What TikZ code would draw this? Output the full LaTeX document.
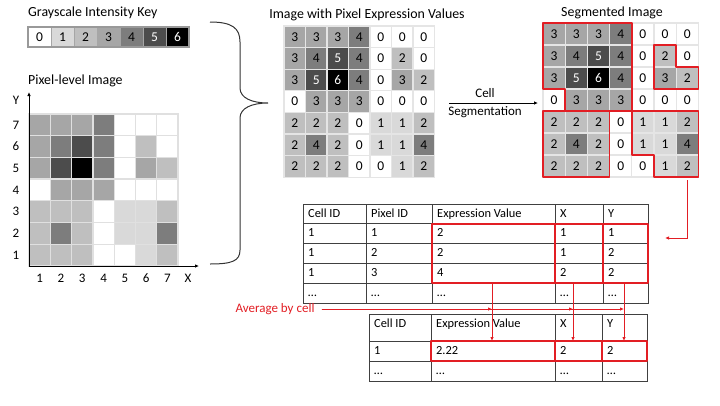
\documentclass[tikz,border=0pt]{standalone}
\usepackage{fontspec}
\setmainfont{Carlito}
\usetikzlibrary{calc,arrows.meta}
\definecolor{g0}{gray}{1}
\definecolor{g1}{gray}{0.85}
\definecolor{g2}{gray}{0.75}
\definecolor{g3}{gray}{0.65}
\definecolor{g4}{gray}{0.49}
\definecolor{g5}{gray}{0.30}
\definecolor{g6}{gray}{0}
\definecolor{t0}{gray}{0}
\definecolor{t1}{gray}{0}
\definecolor{t2}{gray}{0}
\definecolor{t3}{gray}{0}
\definecolor{t4}{gray}{0}
\definecolor{t5}{gray}{1}
\definecolor{t6}{gray}{1}
\definecolor{redc}{RGB}{226,30,36}
\tikzset{
 keycell/.style={draw=black!35, line width=1pt, minimum width=23pt, minimum height=20pt, inner sep=0, outer sep=0, font=\fontsize{13.5}{14}\selectfont},
 pix/.style={draw=black!12, line width=1.3pt, minimum width=21.3pt, minimum height=21.7pt, inner sep=0, outer sep=0},
 mcell/.style={draw=black!10, line width=1.3pt, minimum width=21.5pt, minimum height=21.6pt, inner sep=0, outer sep=0, font=\fontsize{13.5}{14}\selectfont},
 scell/.style={mcell, minimum width=22.2pt, minimum height=22pt},
 ttl/.style={font=\fontsize{13.9}{15}\selectfont, inner sep=0},
 lbl/.style={font=\fontsize{13}{14}\selectfont, inner sep=0},
 tbox/.style={draw=black!75, line width=0.9pt, anchor=north west, inner sep=0, outer sep=0},
 ttext/.style={anchor=west, inner sep=0, text height=8.5pt, text depth=2.5pt, font=\fontsize{12.4}{14}\selectfont},
 redline/.style={draw=redc, line width=1.6pt, line join=round},
 redarr/.style={draw=redc, line width=0.9pt, -{Latex[length=4pt,width=3.5pt]}},
 blkarr/.style={draw=black, line width=0.9pt, -{Latex[length=4pt,width=3.5pt]}},
 bracepath/.style={draw=black!80, line width=1pt},
}
\begin{document}
\begin{tikzpicture}[x=1pt,y=-1pt]
\useasboundingbox (0,0) rectangle (720,405);

% ---- Grayscale key
\node[ttl, anchor=west] (keyttl) at (28,13) {Grayscale Intensity Key};
\foreach \v in {0,...,6} {
  \node[keycell, fill=g\v, text=t\v] (key\v) at ({28+23*\v+11.5},37) {\v};
}
\draw[black!40, line width=1.2pt] (key0.north west) rectangle (key6.south east);

% ---- Pixel-level image
\node[ttl, anchor=west] (pixttl) at (28,81) {Pixel-level Image};
\foreach \rowv [count=\r] in {{3,3,3,4,0,0,0},{3,4,5,4,0,2,0},{3,5,6,4,0,3,2},{0,3,3,3,0,0,0},{2,2,2,0,1,1,2},{2,4,2,0,1,1,4},{2,2,2,0,0,1,2}} {
  \foreach \v [count=\c] in \rowv {
    \node[pix, fill=g\v] (p\r-\c) at ({29+21.3*(\c-0.5)},{114+21.7*(\r-0.5)}) {};
  }
}
\coordinate (origin) at (29,266);
\coordinate (ytip) at (29,92);
\coordinate (xtip) at (199,266);
\draw[blkarr] (origin) -- (ytip);
\draw[blkarr] (origin) -- (xtip);
\node[lbl] (ylab) at (16,100) {Y};
\node[lbl] (xlab) at (188,278) {X};
\foreach \i in {1,...,7} {
  \node[lbl] (yn\i) at (16,{114+21.7*(7-\i+0.5)}) {\i};
  \node[lbl] (xn\i) at ({29+21.3*(\i-0.5)},278) {\i};
}

% ---- Brace
\coordinate (bt) at (268,103);
\draw[bracepath] (210,22) .. controls (232,22) and (240,28) .. (240,42) -- (240,88)
  .. controls (240,98) and (252,103) .. (bt)
  .. controls (252,103) and (240,108) .. (240,118) -- (240,250)
  .. controls (240,261) and (232,264) .. (210,264);

% ---- Image with pixel expression values
\node[ttl] (midttl) at (367,15) {Image with Pixel Expression Values};
\foreach \rowv [count=\r] in {{3,3,3,4,0,0,0},{3,4,5,4,0,2,0},{3,5,6,4,0,3,2},{0,3,3,3,0,0,0},{2,2,2,0,1,1,2},{2,4,2,0,1,1,4},{2,2,2,0,0,1,2}} {
  \foreach \v [count=\c] in \rowv {
    \node[mcell, fill=g\v, text=t\v] (m\r-\c) at ({284+21.5*(\c-0.5)},{26+21.6*(\r-0.5)}) {\v};
  }
}

% ---- Cell segmentation arrow
\coordinate (csa) at (449,103);
\coordinate (csb) at (538,103);
\draw[blkarr] (csa) -- (csb);
\node[lbl] (celllab) at (485,93) {Cell};
\node[lbl] (seglab) at (485,112) {Segmentation};

% ---- Segmented image
\node[ttl] (segttl) at (612,13) {Segmented Image};
\foreach \rowv [count=\r] in {{3,3,3,4,0,0,0},{3,4,5,4,0,2,0},{3,5,6,4,0,3,2},{0,3,3,3,0,0,0},{2,2,2,0,1,1,2},{2,4,2,0,1,1,4},{2,2,2,0,0,1,2}} {
  \foreach \v [count=\c] in \rowv {
    \node[scell, fill=g\v, text=t\v] (s\r-\c) at ({543+22.2*(\c-0.5)},{23+22*(\r-0.5)}) {\v};
  }
}
\draw[redline] (s1-1.north west) -- (s1-4.north east) -- (s4-4.south east) -- (s4-2.south west)
  -- (s4-2.north west) -- (s3-1.south west) -- cycle;
\draw[redline] (s2-6.north west) -- (s2-6.north east) -- (s2-6.south east) -- (s3-7.north east)
  -- (s3-7.south east) -- (s3-6.south west) -- cycle;
\draw[redline] (s5-1.north west) rectangle (s7-3.south east);
\draw[redline] (s5-5.north west) -- (s5-7.north east) -- (s7-7.south east) -- (s7-6.south west)
  -- (s6-6.south west) -- (s6-5.south west) -- cycle;

% ---- Table 1
\foreach \rowv [count=\r] in {{Cell ID,Pixel ID,Expression Value,X,Y},{1,1,2,1,1},{1,2,2,1,2},{1,3,4,2,2},{…,…,…,…,…}} {
  \foreach \txt [count=\c] in \rowv {
    \pgfmathsetmacro\xx{{303,366,432,555,603}[\c-1]}
    \pgfmathsetmacro\ww{{63,66,123,48,45}[\c-1]}
    \pgfmathsetmacro\yy{204+19.8*(\r-1)}
    \node[tbox, minimum width=\ww, minimum height=19.8] (t1-\r-\c) at (\xx,\yy) {};
    \node[ttext] (t1t-\r-\c) at ($(t1-\r-\c.north west)+(5,10)$) {\txt};
  }
}
\draw[redline] (t1-2-3.north west) rectangle (t1-4-3.south east);
\draw[redline] (t1-2-4.north west) rectangle (t1-4-4.south east);
\draw[redline] (t1-2-5.north west) rectangle (t1-4-5.south east);

% ---- Table 2
\foreach \rowv [count=\r] in {{Cell ID,Expression Value,X,Y},{1,2.22,2,2},{…,…,…,…}} {
  \foreach \txt [count=\c] in \rowv {
    \pgfmathsetmacro\xx{{369,431,555,602}[\c-1]}
    \pgfmathsetmacro\ww{{62,124,47,45}[\c-1]}
    \pgfmathsetmacro\yy{{314,341,361}[\r-1]}
    \pgfmathsetmacro\hh{{27,20,20}[\r-1]}
    \node[tbox, minimum width=\ww, minimum height=\hh] (t2-\r-\c) at (\xx,\yy) {};
    \node[ttext] (t2t-\r-\c) at ($(t2-\r-\c.north west)+(5,10)$) {\txt};
  }
}
\draw[redline] (t2-2-2.north west) rectangle (t2-2-2.south east);
\draw[redline] (t2-2-3.north west) rectangle (t2-2-3.south east);
\draw[redline] (t2-2-4.north west) rectangle (t2-2-4.south east);

% ---- Red connectors
\coordinate (sa) at ($(s7-7.south)+(0,3)$);
\coordinate (sb) at (665,238);
\draw[redarr] (sa) |- (sb);

\coordinate (v1) at ($(t1-4-3.south west)+(60,0)$);
\coordinate (v2) at ($(t1-4-4.south west)+(18,0)$);
\coordinate (v3) at ($(t1-4-5.south west)+(21,0)$);
\draw[redarr] (v1) -- (v1 |- t2-2-2.north);
\draw[redarr] (v2) -- (v2 |- t2-2-3.north);
\draw[redarr] (v3) -- (v3 |- t2-2-4.north);

\node[lbl, text=redc] (avg) at (275,309) {Average by cell};
\coordinate (hs) at ($(avg.east)+(7,0)$);
\draw[redarr] (hs) -- (hs -| v1);
\draw[redarr] (hs) -- (hs -| v2);
\draw[redarr] (hs) -- (hs -| v3);
\end{tikzpicture}
\end{document}
